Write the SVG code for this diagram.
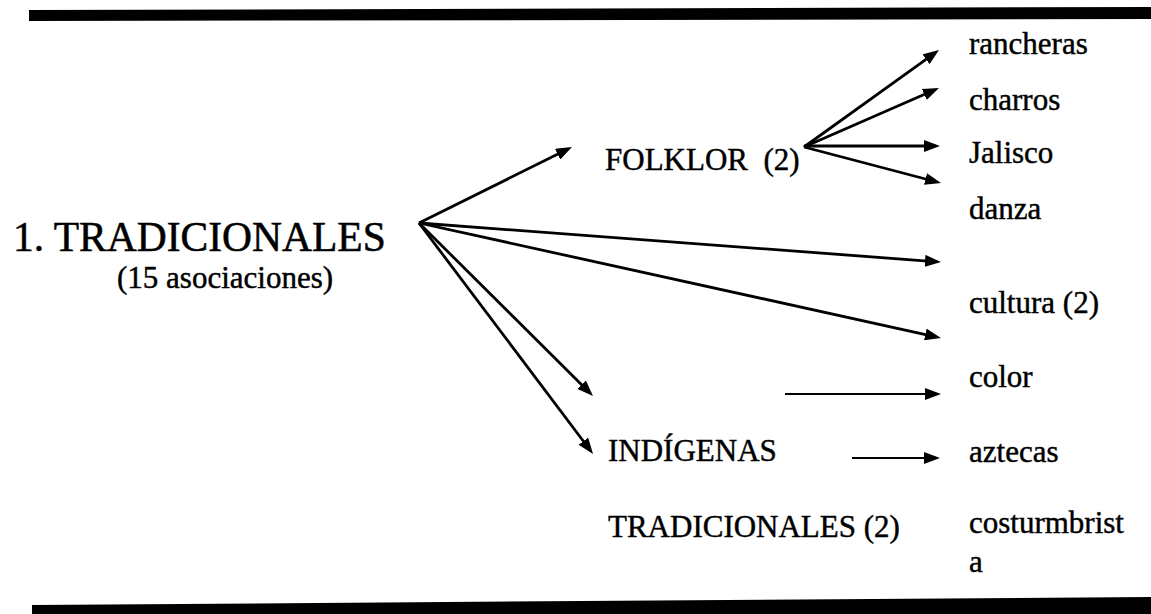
<svg xmlns="http://www.w3.org/2000/svg" width="1151" height="614" viewBox="0 0 1151 614">
<style>
text { font-family: "Liberation Serif", "Times New Roman", serif; fill: #000; stroke: #000; stroke-width: 0.45; }
.t { font-size: 31px; white-space: pre; }
.big { font-size: 41.5px; stroke-width: 0.55; }
.c { stroke: #000; stroke-width: 2.8; fill: none; marker-end: url(#ah); }
.h { stroke: #000; stroke-width: 2.2; fill: none; marker-end: url(#ah); }
.bar { fill: #000; }
</style>
<defs>
<marker id="ah" markerUnits="userSpaceOnUse" markerWidth="16" markerHeight="12" refX="6" refY="6" orient="auto">
<path d="M0,0 L16,6 L0,12 z" fill="#000"/>
</marker>
</defs>
<rect width="1151" height="614" fill="#fff"/>
<g id="rules">
<polygon class="bar" points="29,10 1151,7 1151,19 29,21"/>
<polygon class="bar" points="32,605 1151,597 1151,614 32,614"/>
</g>
<g id="connectors">
<line class="c" x1="419" y1="223" x2="563" y2="151.5"/>
<line class="c" x1="419" y1="223" x2="931" y2="261.3"/>
<line class="c" x1="419" y1="223" x2="931.2" y2="335.8"/>
<line class="c" x1="419" y1="223" x2="585.9" y2="388.9"/>
<line class="c" x1="419" y1="223" x2="587" y2="446"/>
<line class="c" x1="804" y1="147" x2="930.9" y2="55.8"/>
<line class="c" x1="804" y1="147" x2="929.8" y2="92"/>
<line class="c" x1="804" y1="146" x2="930" y2="146"/>
<line class="c" x1="804" y1="147" x2="931.3" y2="180.5"/>
<line class="h" x1="785" y1="394" x2="931" y2="394"/>
<line class="h" x1="852" y1="458" x2="930" y2="458"/>
</g>
<g id="node-tradicionales">
<text class="big" x="13" y="251">1. TRADICIONALES</text>
<text class="t" x="117" y="288">(15 asociaciones)</text>
</g>
<g id="node-folklor"><text class="t" x="605" y="170">FOLKLOR  (2)</text></g>
<g id="node-indigenas"><text class="t" x="608" y="461">INDÍGENAS</text></g>
<g id="node-tradicionales2"><text class="t" x="608" y="537">TRADICIONALES (2)</text></g>
<g id="node-rancheras"><text class="t" x="969" y="54">rancheras</text></g>
<g id="node-charros"><text class="t" x="969" y="110">charros</text></g>
<g id="node-jalisco"><text class="t" x="969" y="163">Jalisco</text></g>
<g id="node-danza"><text class="t" x="969" y="219">danza</text></g>
<g id="node-cultura"><text class="t" x="969" y="313">cultura (2)</text></g>
<g id="node-color"><text class="t" x="969" y="387">color</text></g>
<g id="node-aztecas"><text class="t" x="969" y="462">aztecas</text></g>
<g id="node-costurmbrista">
<text class="t" x="969" y="533">costurmbrist</text>
<text class="t" x="969" y="572">a</text>
</g>
</svg>
